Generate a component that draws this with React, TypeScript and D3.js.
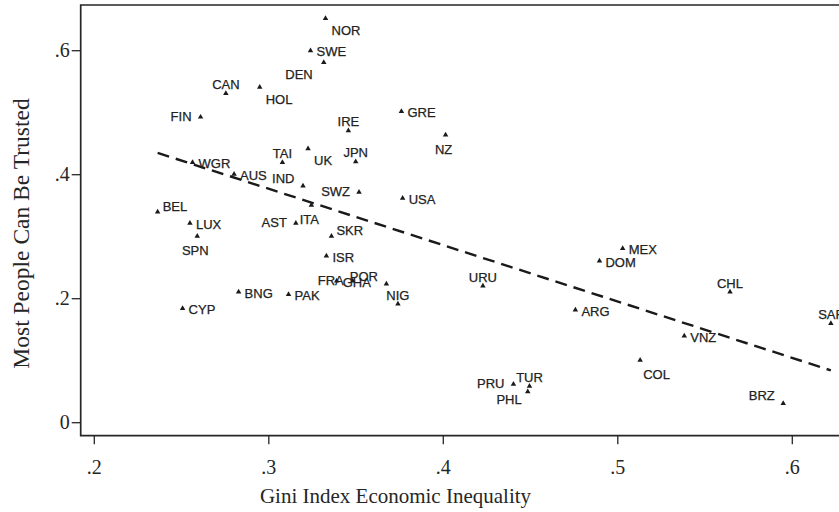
import * as d3 from 'd3';
import React, {useRef, useEffect} from 'react';

// country codes
const countries = ["NOR", "SWE", "DEN", "CAN", "HOL", "FIN", "IRE", "GRE", "NZ", "TAI", "UK", "JPN",
    "WGR", "AUS", "IND", "SWZ", "USA", "BEL", "LUX", "SPN", "AST", "ITA", "SKR", "ISR", "FRA", "GHA",
    "POR", "NIG", "BNG", "PAK", "CYP", "MEX", "DOM", "URU", "CHL", "ARG", "SAF", "VNZ", "COL", "PRU",
    "TUR", "PHL", "BRZ"];
const gini = [0.3325, 0.3239, 0.3315, 0.2754, 0.2948, 0.2609, 0.3456, 0.376, 0.4013, 0.3078, 0.3225, 0.3498,
    0.2563, 0.2801, 0.3196, 0.3517, 0.3767, 0.2363, 0.2548, 0.259, 0.3155, 0.3244, 0.3359, 0.333, 0.3481, 0.3389,
    0.3674, 0.374, 0.2827, 0.3113, 0.2506, 0.5028, 0.4895, 0.4227, 0.5643, 0.4757, 0.6221, 0.5381, 0.5128, 0.4402,
    0.4494, 0.4484, 0.5948];
const trust = [0.652, 0.600, 0.581, 0.531, 0.541, 0.493, 0.471, 0.502, 0.464, 0.420, 0.442, 0.421,
    0.420, 0.401, 0.382, 0.372, 0.362, 0.340, 0.322, 0.301, 0.322, 0.351, 0.301, 0.269, 0.2285, 0.2285,
    0.224, 0.1915, 0.211, 0.207, 0.1845, 0.281, 0.261, 0.2205, 0.211, 0.182, 0.160, 0.140, 0.101, 0.062,
    0.059, 0.050, 0.0313];
// marker label clock positions (like stata mlabvposition)
const labelClock = [4, 3, 7, 12, 4, 9, 12, 3, 6, 12, 4, 12,
    3, 3, 10, 9, 3, 2, 3, 6, 9, 6, 2, 3, 9, 3,
    10, 12, 3, 3, 3, 3, 3, 12, 12, 3, 12, 3, 5, 9,
    12, 8, 10];

const xTicks = [0.2, 0.3, 0.4, 0.5, 0.6];
const yTicks = [0, 0.2, 0.4, 0.6];

const W = 839, H = 512;
const frame = {l: 80.7, t: 5, r: 870, b: 435.7};
const ink = "#262626";
const serif = "'Liberation Serif', 'DejaVu Serif', serif";
const sans = "'Liberation Sans', Arial, sans-serif";

// offsets for each clock position: [dx, dy, anchor]
const clockOffsets = {
    12: [0, -9, "middle"], 1: [2, -7, "start"], 2: [5, -6, "start"], 3: [6, 1, "start"],
    4: [6, 12, "start"], 5: [3, 14, "start"], 6: [-2, 14, "middle"], 7: [-11, 12, "end"],
    8: [-6, 8, "end"], 9: [-9, -1, "end"], 10: [-8.5, -8, "end"], 11: [-3, -8, "end"]
};

const fmt = (v) => v === 0 ? "0" : d3.format(".1f")(v).replace(/^0/, "");

export default function App() {
    const ref = useRef(null);

    useEffect(() => {
        const svg = d3.select(ref.current);
        svg.selectAll("*").remove();

        const data = countries.map((c, i) => ({name: c, x: gini[i], y: trust[i], pos: labelClock[i]}));

        const xScale = d3.scaleLinear().domain([0.2, 0.6]).range([94.3, 792.3]);
        const yScale = d3.scaleLinear().domain([0, 0.6]).range([422.7, 50.7]);

        // frame: top, left, bottom (right side runs off the picture)
        svg.append("path")
            .attr("d", `M${frame.r},${frame.t}H${frame.l}V${frame.b}H${frame.r}`)
            .attr("fill", "none")
            .attr("stroke", ink)
            .attr("stroke-width", 1.7);

        // y axis
        const yAxis = svg.append("g");
        yAxis.selectAll("line").data(yTicks).enter().append("line")
            .attr("x1", frame.l - 9).attr("x2", frame.l)
            .attr("y1", (d) => yScale(d)).attr("y2", (d) => yScale(d))
            .attr("stroke", ink).attr("stroke-width", 1.3);
        yAxis.selectAll("text").data(yTicks).enter().append("text")
            .attr("x", frame.l - 11)
            .attr("y", (d) => yScale(d))
            .attr("dy", "0.33em")
            .attr("text-anchor", "end")
            .style("font-family", serif).style("font-size", "20px").style("fill", ink)
            .text(fmt);

        // x axis
        const xAxis = svg.append("g");
        xAxis.selectAll("line").data(xTicks).enter().append("line")
            .attr("x1", (d) => xScale(d)).attr("x2", (d) => xScale(d))
            .attr("y1", frame.b).attr("y2", frame.b + 8.5)
            .attr("stroke", ink).attr("stroke-width", 1.3);
        xAxis.selectAll("text").data(xTicks).enter().append("text")
            .attr("x", (d) => xScale(d))
            .attr("y", 467)
            .attr("dy", "0.35em")
            .attr("text-anchor", "middle")
            .style("font-family", serif).style("font-size", "20px").style("fill", ink)
            .text(fmt);

        svg.append("text")
            .text("Gini Index Economic Inequality")
            .attr("x", 395.5).attr("y", 496).attr("dy", "0.35em")
            .attr("text-anchor", "middle")
            .style("font-family", serif).style("font-size", "21px").style("fill", ink);

        svg.append("text")
            .text("Most People Can Be Trusted")
            .attr("transform", "translate(21,233.5) rotate(-90)")
            .attr("dy", "0.35em")
            .attr("text-anchor", "middle")
            .style("font-family", serif).style("font-size", "23.5px").style("fill", ink);

        // linear fit over the range of the data
        const mx = d3.mean(data, (d) => d.x), my = d3.mean(data, (d) => d.y);
        const slope = d3.sum(data, (d) => (d.x - mx) * (d.y - my)) / d3.sum(data, (d) => (d.x - mx) ** 2);
        const icpt = my - slope * mx;
        const [x0, x1] = d3.extent(data, (d) => d.x);
        svg.append("line")
            .attr("x1", xScale(x0)).attr("y1", yScale(icpt + slope * x0))
            .attr("x2", xScale(x1)).attr("y2", yScale(icpt + slope * x1))
            .attr("stroke", "#1a1a1a")
            .attr("stroke-width", 2.4)
            .attr("stroke-dasharray", "12,7");

        // markers
        const tri = d3.symbol().type(d3.symbolTriangle).size(13);
        svg.append("g").selectAll("path").data(data).enter().append("path")
            .attr("d", tri)
            .attr("transform", (d) => `translate(${xScale(d.x)},${yScale(d.y)})`)
            .attr("fill", "#1a1a1a");

        // marker labels
        svg.append("g").selectAll("text").data(data).enter().append("text")
            .attr("x", (d) => xScale(d.x) + clockOffsets[d.pos][0])
            .attr("y", (d) => yScale(d.y) + clockOffsets[d.pos][1])
            .attr("dy", "0.36em")
            .attr("text-anchor", (d) => clockOffsets[d.pos][2])
            .style("font-family", sans).style("font-size", "13px")
            .style("fill", "#222").style("stroke", "#222").style("stroke-width", 0.25)
            .text((d) => d.name);
    }, []);

    return (
        <svg ref={ref} width={W} height={H}
             style={{position: "absolute", left: 0, top: 0, background: "#fff"}} />
    );
}
